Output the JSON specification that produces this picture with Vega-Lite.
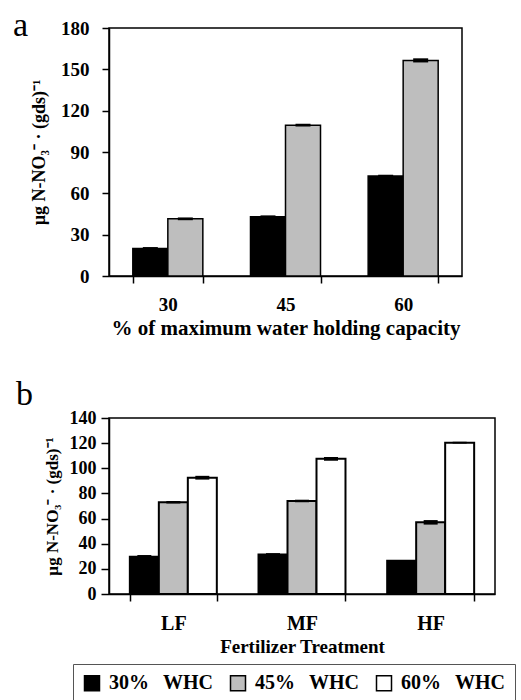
{
  "$schema": "https://vega.github.io/schema/vega-lite/v6.json",
  "background": "white",
  "padding": {"left": 12, "top": 8, "right": 5, "bottom": 5},
  "config": {
    "font": "Liberation Serif",
    "view": {"stroke": "black", "strokeWidth": 1.5},
    "axis": {
      "grid": false,
      "domainColor": "black",
      "domainWidth": 1.5,
      "tickColor": "black",
      "tickWidth": 1.5,
      "tickSize": 7,
      "labelFont": "Liberation Serif",
      "labelFontWeight": "bold",
      "labelFontSize": 19,
      "labelColor": "black",
      "labelOverlap": false,
      "titleFont": "Liberation Serif",
      "titleFontWeight": "bold",
      "titleFontSize": 17,
      "titleColor": "black"
    },
    "scale": {"offsetBandPaddingInner": 0, "offsetBandPaddingOuter": 0},
    "title": {"font": "Liberation Serif", "fontWeight": "normal", "fontSize": 34, "color": "black"}
  },
  "columns": 1,
  "align": "none",
  "spacing": 38,
  "resolve": {"scale": {"color": "shared", "xOffset": "independent"}},
  "concat": [
    {
      "width": 353,
      "height": 248,
      "title": {"text": "a", "anchor": "start", "frame": "group", "dx": -96, "dy": 46, "baseline": "alphabetic", "offset": -5},
      "data": {"values": [
        {"cat": "30", "series": "30% WHC", "value": 20, "lo": 19, "hi": 21},
        {"cat": "30", "series": "45% WHC", "value": 41.5, "lo": 40.5, "hi": 42.5},
        {"cat": "45", "series": "30% WHC", "value": 43, "lo": 42, "hi": 44},
        {"cat": "45", "series": "45% WHC", "value": 109.5, "lo": 108.5, "hi": 110.5},
        {"cat": "60", "series": "30% WHC", "value": 72.5, "lo": 71.5, "hi": 73.5},
        {"cat": "60", "series": "45% WHC", "value": 156.5, "lo": 155, "hi": 158}
      ]},
      "encoding": {
        "x": {"field": "cat", "type": "nominal", "sort": null,
          "scale": {"paddingInner": 0.405, "paddingOuter": 0.2025},
          "axis": {"title": "% of maximum water holding capacity", "labelAngle": 0, "tickBand": "extent", "labelPadding": 12, "titlePadding": 3, "titleFontSize": 21}},
        "xOffset": {"field": "series", "type": "nominal", "scale": {"paddingInner": 0, "paddingOuter": 0}}
      },
      "layer": [
        {
          "mark": {"type": "bar", "stroke": "black", "strokeWidth": 1.5},
          "encoding": {
            "y": {"field": "value", "type": "quantitative",
              "scale": {"domain": [0, 180]},
              "axis": {"values": [0, 30, 60, 90, 120, 150, 180], "title": "µg N-NO₃⁻ · (gds)⁻¹", "labelPadding": 13, "titlePadding": 12, "titleFontSize": 18}},
            "color": {"field": "series", "type": "nominal",
              "scale": {"domain": ["30% WHC", "45% WHC", "60% WHC"], "range": ["black", "#bebebe", "white"]}}
          }
        },
        {
          "mark": {"type": "rule", "color": "black", "strokeWidth": 15},
          "encoding": {
            "y": {"field": "lo", "type": "quantitative"},
            "y2": {"field": "hi"}
          }
        }
      ]
    },
    {
      "width": 386,
      "height": 176,
      "title": {"text": "b", "anchor": "start", "frame": "group", "dx": -93, "dy": 25, "baseline": "alphabetic", "offset": -5},
      "data": {"values": [
        {"cat": "LF", "series": "30% WHC", "value": 29.7, "lo": 28.5, "hi": 31},
        {"cat": "LF", "series": "45% WHC", "value": 73, "lo": 72, "hi": 74},
        {"cat": "LF", "series": "60% WHC", "value": 92.5, "lo": 91, "hi": 94},
        {"cat": "MF", "series": "30% WHC", "value": 31.5, "lo": 30.5, "hi": 32.5},
        {"cat": "MF", "series": "45% WHC", "value": 74, "lo": 73, "hi": 75},
        {"cat": "MF", "series": "60% WHC", "value": 107.5, "lo": 106, "hi": 109},
        {"cat": "HF", "series": "30% WHC", "value": 26.5, "lo": 26, "hi": 27},
        {"cat": "HF", "series": "45% WHC", "value": 57, "lo": 55.2, "hi": 58.8},
        {"cat": "HF", "series": "60% WHC", "value": 120.4, "lo": 119.7, "hi": 121.1}
      ]},
      "encoding": {
        "x": {"field": "cat", "type": "nominal", "sort": null,
          "scale": {"paddingInner": 0.324, "paddingOuter": 0.162},
          "axis": {"title": "Fertilizer Treatment", "labelAngle": 0, "tickBand": "extent", "labelPadding": 12, "titlePadding": 4, "titleFontSize": 19, "labelFontSize": 20}},
        "xOffset": {"field": "series", "type": "nominal", "scale": {"paddingInner": 0, "paddingOuter": 0}}
      },
      "layer": [
        {
          "mark": {"type": "bar", "stroke": "black", "strokeWidth": 2},
          "encoding": {
            "y": {"field": "value", "type": "quantitative",
              "scale": {"domain": [0, 140]},
              "axis": {"values": [0, 20, 40, 60, 80, 100, 120, 140], "labelOverlap": false, "title": "µg N-NO₃⁻ · (gds)⁻¹", "labelPadding": 5, "titlePadding": 8, "tickSize": 8, "labelFontSize": 18, "titleFontSize": 17}},
            "color": {"field": "series", "type": "nominal",
              "scale": {"domain": ["30% WHC", "45% WHC", "60% WHC"], "range": ["black", "#bebebe", "white"]},
              "legend": {"orient": "none", "legendX": -36, "legendY": 636, "direction": "horizontal", "title": null,
                "strokeColor": "#555", "padding": 9,
                "symbolType": "square", "symbolSize": 225, "symbolStrokeColor": "black", "symbolStrokeWidth": 1.5,
                "labelFontSize": 20, "labelFontWeight": "bold", "labelColor": "black", "labelOffset": 7, "columnPadding": 13,
                "labelExpr": "replace(datum.label, ' ', '\u2002\u2009')"}}
          }
        },
        {
          "mark": {"type": "rule", "color": "black", "strokeWidth": 14},
          "encoding": {
            "y": {"field": "lo", "type": "quantitative", "axis": {"values": [0, 20, 40, 60, 80, 100, 120, 140], "labelOverlap": false}},
            "y2": {"field": "hi"}
          }
        }
      ]
    }
  ]
}
